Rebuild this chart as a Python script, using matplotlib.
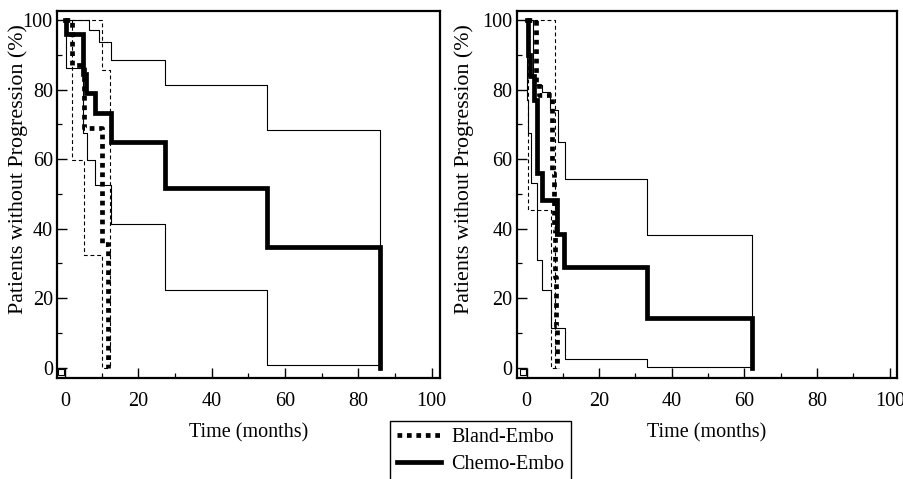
import matplotlib
matplotlib.use("Agg")
import matplotlib.pyplot as plt
from matplotlib.lines import Line2D

plt.rcParams['font.family'] = ['Liberation Serif', 'DejaVu Serif']

# ---------------- data (time in months, % without progression) ----------------
# Left panel
L_chemo_t = [0, 0.3, 5.0, 5.8, 8.3, 12.4, 27.3, 55.0, 86.0]
L_chemo_y = [100, 96, 84.5, 78.9, 73.2, 65.0, 51.6, 34.6, 0]
L_chemo_up_t = [0, 6.5, 9.2, 12.4, 27.3, 55.0, 86.0]
L_chemo_up_y = [100, 97, 93.8, 88.5, 81.3, 68.3, 0]
L_chemo_lo_t = [0, 0.3, 4.9, 6.0, 8.2, 12.4, 27.3, 55.0, 86.0]
L_chemo_lo_y = [100, 86.1, 67.4, 59.7, 52.5, 41.3, 22.3, 0.7, 0.7]
L_bland_t = [0, 1.9, 5.1, 10.1, 11.7]
L_bland_y = [100, 87, 68.8, 35.7, 0]
L_bland_up_t = [0, 10.0, 12.3]
L_bland_up_y = [100, 85.6, 0]
L_bland_lo_t = [0, 1.9, 5.1, 10.1, 12.3]
L_bland_lo_y = [100, 59.7, 32.4, 0, 0]

# Right panel
R_chemo_t = [0, 0.3, 0.9, 2.0, 2.9, 4.4, 8.3, 10.3, 33.1, 62.0]
R_chemo_y = [100, 90, 84, 77, 56, 48.2, 38.5, 29.0, 14.2, 0]
R_chemo_up_t = [0, 1.8, 4.2, 6.5, 8.7, 10.6, 33.1, 62.0]
R_chemo_up_y = [100, 81.4, 79.4, 74.1, 65.0, 54.4, 38.1, 14.2]
R_chemo_lo_t = [0, 0.2, 0.5, 1.2, 2.8, 4.4, 6.8, 10.6, 33.1, 62.0]
R_chemo_lo_y = [100, 77, 67.4, 53, 30.9, 22.3, 11.3, 2.6, 0.2, 0.2]
R_bland_t = [0, 2.6, 3.4, 6.9, 7.6, 7.9, 8.2, 8.5]
R_bland_y = [100, 82, 78.4, 56, 40, 26, 12, 0]
R_bland_up_t = [0, 7.8]
R_bland_up_y = [100, 0]
R_bland_lo_t = [0, 0.3, 6.8, 8.5]
R_bland_lo_y = [100, 45.3, 0, 0]

x_ticks = [0, 20, 40, 60, 80, 100]
y_ticks = [0, 20, 40, 60, 80, 100]
x_label = "Time (months)"
y_label = "Patients without Progression (%)"
legend_labels = ["Bland-Embo", "Chemo-Embo"]

# ---------------- figure ----------------
W, H = 904, 479
fig = plt.figure(figsize=(W / 100, H / 100), dpi=100)

def box(x0, y0, x1, y1):
    return [x0 / W, 1 - y1 / H, (x1 - x0) / W, (y1 - y0) / H]

axL = fig.add_axes(box(57, 11, 440, 377.7))
axR = fig.add_axes(box(516.7, 11, 896.7, 377.7))

THICK = 3.4
THIN = 0.8
FS = 14.5

def panel(ax, ct, cy, cut, cuy, clt, cly, bt, by, but, buy, blt, bly, xlim, ylab_x):
    # confidence bands
    ax.step(cut, cuy, where='post', color='black', lw=THIN)
    ax.step(clt, cly, where='post', color='black', lw=THIN)
    ax.step(but, buy, where='post', color='black', lw=THIN, dashes=[3.5, 2.5])
    ax.step(blt, bly, where='post', color='black', lw=THIN, dashes=[3.5, 2.5])
    # main curves
    ax.step(ct, cy, where='post', color='black', lw=THICK, solid_joinstyle='miter')
    ax.step(bt, by, where='post', color='black', lw=THICK,
            linestyle=(0, (1, 1)), dash_capstyle='butt')
    ax.plot([-1.0], [-1.3], marker='s', ms=5, mfc='white', mec='black', mew=0.8,
            clip_on=False, zorder=5)
    ax.set_xlim(*xlim)
    ax.set_ylim(-2.9, 102.6)
    ax.set_xticks(x_ticks)
    ax.set_yticks(y_ticks)
    ax.set_xticks([10, 30, 50, 70, 90], minor=True)
    ax.set_yticks([10, 30, 50, 70, 90], minor=True)
    ax.tick_params(which='major', direction='in', length=7, width=1.0,
                   labelsize=FS, top=False, right=False)
    ax.tick_params(which='minor', direction='in', length=3.5, width=0.9,
                   top=False, right=False)
    ax.tick_params(axis='x', which='major', pad=10)
    ax.tick_params(axis='y', which='major', pad=3)
    for s in ax.spines.values():
        s.set_linewidth(1.6)
    ax.set_xlabel(x_label, fontsize=FS, labelpad=9)
    ax.set_ylabel(y_label, fontsize=15.8)
    ax.yaxis.set_label_coords(ylab_x, 0.57)

panel(axL, L_chemo_t, L_chemo_y, L_chemo_up_t, L_chemo_up_y, L_chemo_lo_t, L_chemo_lo_y,
      L_bland_t, L_bland_y, L_bland_up_t, L_bland_up_y, L_bland_lo_t, L_bland_lo_y,
      (-2.2, 102.3), -0.076)
panel(axR, R_chemo_t, R_chemo_y, R_chemo_up_t, R_chemo_up_y, R_chemo_lo_t, R_chemo_lo_y,
      R_bland_t, R_bland_y, R_bland_up_t, R_bland_up_y, R_bland_lo_t, R_bland_lo_y,
      (-2.7, 101.9), -0.112)

handles = [
    Line2D([], [], color='black', lw=THICK, linestyle=(0, (1, 1)), dash_capstyle='butt'),
    Line2D([], [], color='black', lw=THICK),
]
leg = fig.legend(handles, legend_labels, loc='upper left',
                 bbox_to_anchor=(390 / W, 1 - 421 / H), fontsize=14.5,
                 frameon=True, fancybox=False, edgecolor='black', framealpha=1,
                 borderpad=0.35, handlelength=2.2, handletextpad=0.5,
                 labelspacing=0.4, borderaxespad=0)
leg.get_frame().set_linewidth(1.0)

fig.savefig("out.png", dpi=100)
